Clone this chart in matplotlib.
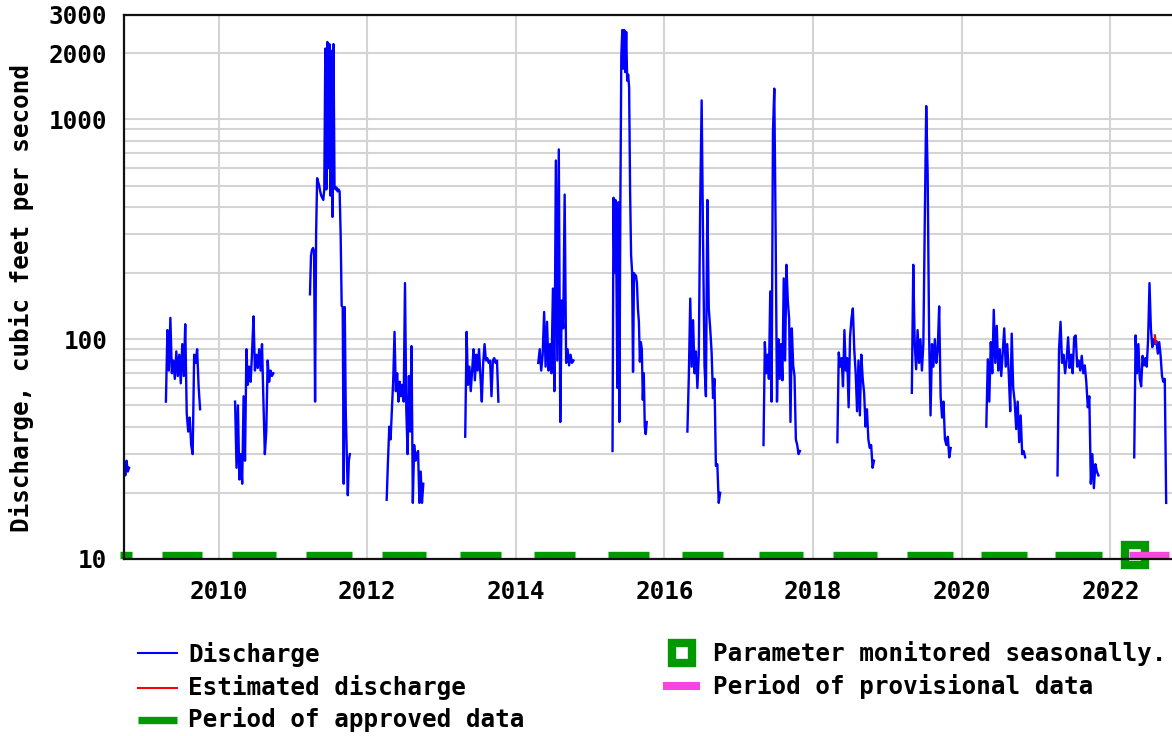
import matplotlib
matplotlib.use('Agg')
import matplotlib.pyplot as plt
import matplotlib.dates as mdates
from matplotlib.lines import Line2D
from matplotlib.ticker import FixedLocator, NullFormatter
import pandas as pd

plt.rcParams['font.family'] = ['DejaVu Sans Mono']
plt.rcParams['font.weight'] = 'bold'
plt.rcParams['font.size'] = 17.5

# daily discharge (cfs), one list per monitoring season
q2008 = [27, 24, 28, 25, 26]
q2009 = [52, 110, 72, 125, 70, 80, 66, 88, 68, 85, 63, 95, 68, 117,
         46, 38, 44, 33, 30, 85, 78, 90, 61, 48]
q2010 = [52, 26, 50, 23, 30, 22, 55, 28, 90, 62, 75, 64, 88, 127, 72, 85,
         74, 90, 72, 95, 52, 30, 38, 80, 64, 72, 68, 70]
q2011 = [160, 240, 255, 260, 250, 52, 300,
         540, 520, 500, 470, 450, 440, 430, 480,
         2100, 480, 2250, 600, 2200, 450, 2050, 360, 2200, 500,
         480, 490, 470, 480, 470,
         300, 142, 140, 22, 140, 47, 30, 19.5, 28, 30]
q2012 = [18.6, 28, 40, 35, 48, 65, 108, 58, 70, 52, 64, 55, 62, 52, 180, 48,
         30, 68, 38, 93, 18, 33, 28, 30, 31, 18, 25, 18, 22]
q2013 = [36, 108, 62, 75, 58, 72, 90, 65, 85, 72, 90, 68, 52, 78, 95, 80,
         82, 78, 80, 55, 80, 82, 78, 80, 52]
q2014 = [78, 90, 72, 85, 133, 75, 120, 72, 95, 70, 170, 58, 650, 80, 730,
         42, 150, 112, 455, 78, 90, 76, 85, 78, 80]
q2015 = [31, 440, 200, 430, 190, 60, 420, 42, 400,
         1950, 2550, 1700, 2550, 1640,
         2500, 1500, 1600, 1400, 470,
         242, 204, 71, 200, 190, 195, 180,
         138, 120, 79, 97, 90, 53, 70, 40, 37, 42]
q2016 = [38, 68, 153, 75, 122, 70, 88, 60, 85, 425, 1220, 280, 76, 55, 430,
         138, 112, 87, 54, 66, 26.5, 27, 18, 20]
q2017 = [33, 97, 70, 85, 66, 165, 52, 870, 1380, 303, 52, 100, 66, 95, 65,
         189, 80, 218, 150, 124, 42, 112, 76, 68, 35, 33, 30, 31]
q2018 = [34, 87, 75, 82, 61, 110, 72, 82, 49, 102, 124, 138, 90, 70, 47, 80,
         45, 85, 66, 57, 40, 48, 35, 32, 33, 26, 28]
q2019 = [57, 218, 95, 73, 110, 78, 100, 72, 95, 344, 1150, 560, 104, 45, 95,
         75, 100, 78, 90, 141, 55, 44, 52, 35, 33, 36, 29, 32]
q2020 = [40, 81, 52, 97, 70, 136, 78, 115, 72, 90, 68, 87, 112, 75, 95, 70,
         47, 106, 60, 52, 39, 52, 34, 45, 30, 31, 29]
q2021 = [24, 90, 120, 78, 85, 70, 80, 102, 74, 85, 70, 102, 104, 75, 80, 72,
         84, 70, 76, 64, 49, 55, 22, 30, 21, 27, 25, 24]
q2022 = [29, 104, 70, 95, 66, 61, 84, 76, 82, 75, 100, 180, 112, 92, 100, 95,
         98, 86, 97, 84, 68, 64, 66, 18]

season_start = ['2008-09-23', '2009-04-17', '2010-03-23', '2011-03-26',
                '2012-04-06', '2013-04-27', '2014-04-21', '2015-04-21',
                '2016-04-23', '2017-05-02', '2018-04-30', '2019-05-01',
                '2020-05-01', '2021-04-16', '2022-04-28']
season_end = ['2008-10-18', '2009-10-02', '2010-09-27', '2011-10-08',
              '2012-10-03', '2013-10-07', '2014-10-11', '2015-10-06',
              '2016-10-01', '2017-10-28', '2018-10-27', '2019-11-08',
              '2020-11-08', '2021-11-03', '2022-10-02']
season_q = [q2008, q2009, q2010, q2011, q2012, q2013, q2014, q2015, q2016,
            q2017, q2018, q2019, q2020, q2021, q2022]

est_dates = ['2022-08-07', '2022-08-12']
est_q = [104, 96]

approved_start = ['2008-09-03', '2009-03-27', '2010-03-06', '2011-03-05',
                  '2012-03-12', '2013-04-01', '2014-04-01', '2015-03-31',
                  '2016-03-29', '2017-04-09', '2018-04-07', '2019-04-06',
                  '2020-04-04', '2021-04-04']
approved_end = ['2008-10-31', '2009-10-10', '2010-10-10', '2011-10-19',
                '2012-10-17', '2013-10-18', '2014-10-17', '2015-10-15',
                '2016-10-14', '2017-11-12', '2018-11-10', '2019-11-21',
                '2020-11-19', '2021-11-19']
provisional_start = ['2022-04-01']
provisional_end = ['2022-10-16']
seasonal_mark = ['2022-04-30']

BLUE = '#0000ff'
GREEN = '#009900'
PINK = '#f844e0'

fig = plt.figure(figsize=(11.72, 7.36), dpi=100)
ax = fig.add_axes([124 / 1172, 177 / 736, 1056 / 1172, 544.5 / 736])

for s, e, q in zip(season_start, season_end, season_q):
    d = pd.date_range(s, e, periods=len(q))
    ax.plot(d, q, color=BLUE, lw=1.7, zorder=2)
ax.plot(pd.to_datetime(est_dates), est_q, color='red', lw=1.7, zorder=2.1)

xt = ax.get_xaxis_transform()
ax.hlines([0.0068] * len(approved_start), pd.to_datetime(approved_start),
          pd.to_datetime(approved_end), color=GREEN, lw=5.3, transform=xt,
          clip_on=False, zorder=2.1)
ax.plot(pd.to_datetime(seasonal_mark), [0.0068], marker='s', ms=14,
        mew=6, mec=GREEN, mfc='white', transform=xt, clip_on=False,
        zorder=2.15, ls='none')
ax.hlines([0.0068], pd.to_datetime(provisional_start),
          pd.to_datetime(provisional_end), color=PINK, lw=5.3, transform=xt,
          clip_on=False, zorder=2.2)

ax.set_yscale('log')
ax.set_ylim(10, 3000)
ax.set_xlim(pd.Timestamp('2008-09-23'), pd.Timestamp('2022-12-09'))
ax.yaxis.set_major_locator(FixedLocator([10, 100, 1000, 2000, 3000]))
ax.set_yticklabels(['10', '100', '1000', '2000', '3000'])
ax.yaxis.set_minor_locator(FixedLocator([20, 30, 40, 50, 60, 70, 80, 90,
                                         200, 300, 400, 500, 600, 700, 800, 900]))
ax.yaxis.set_minor_formatter(NullFormatter())
ax.xaxis.set_major_locator(mdates.YearLocator(2))
ax.xaxis.set_major_formatter(mdates.DateFormatter('%Y'))
ax.xaxis.set_minor_locator(FixedLocator([]))

ax.set_axisbelow(True)
ax.grid(True, axis='y', which='both', color='#d4d4d4', lw=1.5)
ax.grid(True, axis='x', which='major', color='#d4d4d4', lw=1.5)
ax.tick_params(axis='both', which='both', length=0)
ax.tick_params(axis='y', pad=12)
ax.tick_params(axis='x', pad=15)
for sp in ax.spines.values():
    sp.set_linewidth(1.6)
    sp.set_color('#111111')

fig.text(22 / 1172, 1 - 298 / 736, 'Discharge, cubic feet per second',
         rotation=90, ha='center', va='center')

# legend, drawn by hand to match the page layout
def fx(p):
    return p / 1172

def fy(p):
    return 1 - p / 736

fig.add_artist(Line2D([fx(138), fx(177)], [fy(653), fy(653)], color=BLUE, lw=1.5))
fig.add_artist(Line2D([fx(138), fx(177)], [fy(688), fy(688)], color='red', lw=1.5))
fig.add_artist(Line2D([fx(138), fx(177)], [fy(720), fy(720)], color=GREEN,
                      lw=5.3, solid_capstyle='butt'))
fig.add_artist(Line2D([fx(682)], [fy(653)], marker='s', ms=14, mew=6,
                      mec=GREEN, mfc='white', ls='none'))
fig.add_artist(Line2D([fx(663), fx(700)], [fy(686), fy(686)], color=PINK,
                      lw=5.8, solid_capstyle='butt'))
fig.text(fx(188), fy(662), 'Discharge', va='baseline')
fig.text(fx(188), fy(695), 'Estimated discharge', va='baseline')
fig.text(fx(188), fy(727), 'Period of approved data', va='baseline')
fig.text(fx(713), fy(661), 'Parameter monitored seasonally.', va='baseline')
fig.text(fx(713), fy(694), 'Period of provisional data', va='baseline')

fig.savefig('out.png', dpi=100)
